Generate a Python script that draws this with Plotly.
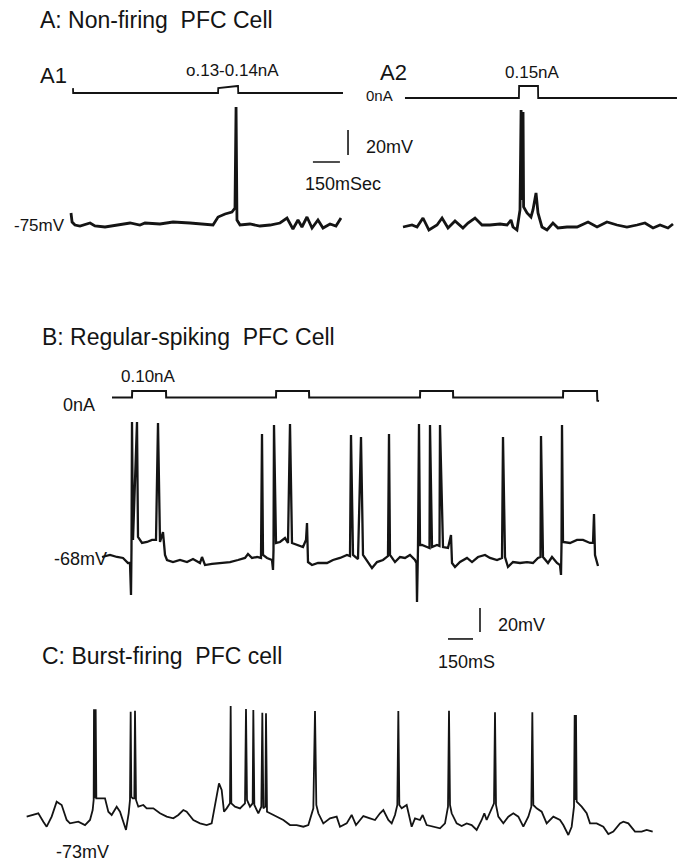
import plotly.graph_objects as go

W, H = 684, 861

# ---------------- DATA (time in ms, membrane potential in mV, current in nA) ----------------
# Panel A1: non-firing cell, 0.13-0.14 nA step
a1_time_ms = [0, 6, 22, 50, 106, 133, 189, 272, 328, 383, 411, 494, 567, 661, 744, 789, 817, 856, 894, 911,
              917, 922, 939, 994, 1050, 1106, 1161, 1200, 1233, 1261, 1283, 1311, 1339, 1372, 1400, 1439, 1472, 1500]
a1_mv = [-65.4, -72.6, -75, -75.8, -73.4, -75.8, -76.6, -75, -73.4, -75, -73.4, -74.2, -72.6, -73.4, -74.2, -75,
         -68.6, -66.2, -64.6, -61.4, 19.4, -71, -75, -74.2, -75.8, -75, -73.4, -69.4, -78.2, -71, -76.6, -68.6,
         -77.4, -71, -77.4, -74.2, -75.8, -69.4]
a1_cmd_time_ms = [11, 12, 817, 818, 925, 928, 929, 1511]
a1_cmd_na = [0.11, 0.0, 0.0, 0.113, 0.158, 0.158, 0.0, 0.0]

# Panel A2: non-firing cell, 0.15 nA step
a2_time_ms = [0, 50, 78, 111, 144, 189, 217, 250, 289, 333, 361, 400, 439, 483, 539, 578, 600, 611, 633, 650,
              656, 661, 667, 670, 689, 711, 722, 739, 750, 772, 800, 833, 861, 911, 967, 1028, 1078, 1133, 1189,
              1244, 1300, 1344, 1389, 1428, 1472, 1500]
a2_mv = [-75, -73.4, -75, -67.8, -77.4, -73.4, -67.8, -75.8, -70.2, -75.8, -71.8, -67.8, -73.4, -73.4, -72.6,
         -73.4, -69.4, -75, -77.4, -61.4, 18.6, -53.4, 17, -59, -63.8, -67, -61.4, -47.8, -63.8, -75, -77.4,
         -71.8, -75.8, -75, -75, -71, -75, -71, -73.4, -75, -73.4, -71.8, -75.8, -73.4, -75.8, -72.6]
a2_cmd_time_ms = [11, 644, 645, 750, 751, 1522]
a2_cmd_na = [0.0, 0.0, 0.15, 0.15, 0.0, 0.0]

# Panel B: regular-spiking cell, repeated 0.10 nA steps
b_time_ms = [0, 48, 90, 126, 156, 168, 174, 177, 180, 186, 210, 216, 240, 270, 300, 324, 336, 348, 366, 378,
             390, 426, 468, 510, 546, 588, 600, 618, 660, 708, 768, 816, 858, 876, 900, 930, 954, 960, 966, 990,
             1020, 1026, 1029, 1032, 1044, 1068, 1098, 1116, 1128, 1140, 1170, 1206, 1224, 1230, 1236, 1260,
             1296, 1350, 1386, 1428, 1470, 1488, 1494, 1506, 1536, 1554, 1566, 1596, 1620, 1650, 1686, 1716,
             1722, 1728, 1758, 1788, 1818, 1848, 1878, 1887, 1890, 1896, 1902, 1908, 1920, 1950, 1965, 1968,
             1980, 2010, 2025, 2028, 2046, 2076, 2094, 2100, 2118, 2148, 2190, 2220, 2256, 2298, 2328, 2370,
             2400, 2406, 2418, 2436, 2466, 2508, 2550, 2586, 2616, 2631, 2634, 2646, 2676, 2700, 2730, 2748,
             2754, 2757, 2760, 2766, 2808, 2850, 2886, 2928, 2946, 2952, 2958, 2976]
b_mv = [-65.5, -63.8, -65.5, -66.3, -70.5, -70.5, -97.2, -58, 47, -51.3, 47, -48.8, -53.8, -53, -51.3, -51.3,
        46.2, -53, -44.7, -63.8, -68, -69.7, -68, -69.7, -67.2, -70.5, -65.5, -72.2, -71.3, -70.5, -69.7, -68,
        -66.3, -63, -66.3, -65.5, -66.3, 37, -63.8, -66.3, -68, -76.3, -59.7, 44.5, -53.8, -53, -49.7, -53.8,
        45.3, -53.8, -55.5, -57.2, -51.3, -37.2, -69.7, -72.2, -70.5, -70.5, -68, -66.3, -63.8, -64.7, 36.2,
        -63.8, -67.2, 34.5, -63.8, -70.5, -74.7, -69.7, -68, -64.7, 37, -63.8, -69.7, -65.5, -66.3, -63.8,
        -68, -70.5, -103, -57.2, 45.3, -55.5, -55.5, -57.2, -58, 44.5, -57.2, -55.5, -56.3, 44.5, -57.2, -58,
        -47.2, -70.5, -73.8, -69.7, -66.3, -69.7, -65.5, -63.8, -66.3, -68, -66.3, 34.5, -65.5, -73.8, -69.7,
        -70.5, -69.7, -70.5, -66.3, -65.5, 35.3, -65.5, -70.5, -65.5, -70.5, -72.2, -80.5, -55.5, 44.5, -53,
        -53.8, -51.3, -51.3, -53.8, -53.8, -29.7, -63.8, -73]
b_cmd_time_ms = [60, 180, 181, 384, 385, 1044, 1045, 1242, 1243, 1908, 1909, 2106, 2107, 2766, 2767, 2970,
                 2972, 2982]
b_cmd_na = [0.0, 0.0, 0.1, 0.1, 0.0, 0.0, 0.1, 0.1, 0.0, 0.0, 0.1, 0.1, 0.0, 0.0, 0.1, 0.1, -0.05, -0.055]

# Panel C: burst-firing cell, spontaneous activity
c_time_ms = [0, 40, 70, 100, 120, 150, 180, 210, 240, 260, 310, 350, 380, 396, 402, 404, 408, 414, 418, 440,
             470, 490, 510, 540, 560, 596, 612, 620, 624, 628, 636, 646, 650, 656, 670, 700, 720, 760, 800, 840,
             880, 910, 940, 960, 1000, 1040, 1080, 1110, 1130, 1154, 1170, 1184, 1200, 1220, 1224, 1228, 1250,
             1280, 1310, 1316, 1322, 1340, 1356, 1360, 1366, 1390, 1408, 1414, 1420, 1432, 1436, 1442, 1460,
             1500, 1540, 1580, 1620, 1660, 1690, 1720, 1730, 1738, 1750, 1780, 1820, 1860, 1880, 1920, 1950,
             1976, 2020, 2060, 2090, 2120, 2140, 2170, 2190, 2210, 2224, 2230, 2236, 2250, 2280, 2310, 2330,
             2360, 2376, 2400, 2440, 2480, 2510, 2528, 2534, 2540, 2550, 2580, 2610, 2640, 2670, 2700, 2730,
             2746, 2760, 2796, 2804, 2810, 2816, 2830, 2860, 2890, 2920, 2950, 2980, 3010, 3028, 3034, 3040,
             3060, 3090, 3120, 3160, 3200, 3220, 3250, 3270, 3284, 3288, 3292, 3296, 3300, 3310, 3330, 3360,
             3380, 3420, 3460, 3490, 3520, 3560, 3580, 3610, 3650, 3690, 3720, 3756]
c_mv = [-67.7, -66.3, -64.9, -71.9, -76.1, -67.7, -55.2, -58.0, -70.5, -73.3, -71.9, -74.7, -70.5, -62.2,
        -53.8, 21.7, -52.4, 21.7, -52.4, -52.4, -52.4, -63.6, -66.3, -59.4, -63.6, -78.8, -64.9, -53.8, 19.8,
        -51.1, -52.4, -52.4, 20.6, -53.8, -59.4, -58.0, -60.8, -60.8, -64.9, -67.7, -69.1, -66.3, -62.2, -63.6,
        -70.5, -73.3, -74.7, -73.3, -59.4, -40.0, -45.5, -63.6, -60.8, -56.6, 24.5, -56.6, -59.4, -60.8, -56.6,
        22.0, -53.8, -59.4, -56.6, 21.2, -58.0, -64.9, -59.4, 18.9, -60.8, -59.4, 18.4, -63.6, -64.9, -67.7,
        -70.5, -74.7, -74.7, -76.1, -74.7, -60.8, 20.3, -58.0, -64.9, -73.3, -69.1, -67.7, -76.1, -73.3, -66.3,
        -74.7, -67.2, -69.1, -70.5, -64.9, -62.2, -70.5, -73.3, -66.3, -58.0, 20.3, -58.0, -60.8, -58.0, -76.1,
        -69.1, -70.5, -66.3, -74.7, -76.1, -77.4, -73.3, -59.4, 20.6, -58.0, -64.9, -73.3, -75.5, -73.3, -74.7,
        -78.8, -70.5, -64.9, -70.5, -58.0, -56.6, 19.2, -58.0, -67.7, -73.3, -67.7, -64.9, -67.7, -76.1, -67.7,
        -59.4, 19.2, -58.0, -60.8, -63.6, -73.3, -67.7, -70.5, -74.7, -83.0, -76.1, -59.4, 17.0, -53.8, 17.0,
        -55.2, -56.6, -59.4, -64.9, -73.3, -73.3, -76.1, -82.2, -80.2, -73.3, -71.9, -73.3, -80.2, -80.2, -78.8,
        -80.2]

# Scale bars
scale_ms = 150
scale_mv = 20

# ---------------- LAYOUT HELPERS (pixel placement of each panel) ----------------
def xax(px_lo, px_hi, px0, ms_per_px, anchor):
    return dict(domain=[px_lo / W, px_hi / W],
                range=[(px_lo - px0) * ms_per_px, (px_hi - px0) * ms_per_px],
                visible=False, fixedrange=True, anchor=anchor)

def yax(px_top, px_bot, py0, v0, per_px, anchor):
    return dict(domain=[1 - px_bot / H, 1 - px_top / H],
                range=[v0 - (px_bot - py0) * per_px, v0 + (py0 - px_top) * per_px],
                visible=False, fixedrange=True, anchor=anchor)

KA = 150 / 27
layout_axes = dict(
    xaxis=xax(55, 355, 71, KA, 'y'),
    yaxis=yax(100, 245, 225, -75, 0.8, 'x'),
    yaxis2=yax(78, 100, 93, 0.0, 0.135 / 6, 'x'),
    xaxis2=xax(395, 684, 403, KA, 'y3'),
    yaxis3=yax(100, 245, 227, -75, 0.8, 'x2'),
    yaxis4=yax(78, 103, 98, 0.0, 0.15 / 12, 'x2'),
    xaxis3=xax(95, 615, 102, 6, 'y5'),
    yaxis5=yax(410, 650, 560, -68, 20 / 24, 'x3'),
    yaxis6=yax(383, 408, 397.5, 0.0, 0.1 / 6.5, 'x3'),
    xaxis4=xax(20, 665, 26.667, 6, 'y7'),
    yaxis7=yax(695, 845, 823, -73, 20 / 24, 'x4'),
)

INK = '#141414'
fig = go.Figure()

def line(x, y, xa, ya, w):
    fig.add_trace(go.Scatter(x=x, y=y, xaxis=xa, yaxis=ya, mode='lines',
                             line=dict(color=INK, width=w), hoverinfo='skip', showlegend=False))

line(a1_time_ms, a1_mv, 'x', 'y', 2.8)
line(a1_cmd_time_ms, a1_cmd_na, 'x', 'y2', 1.8)
line(a2_time_ms, a2_mv, 'x2', 'y3', 2.8)
line(a2_cmd_time_ms, a2_cmd_na, 'x2', 'y4', 1.8)
line(b_time_ms, b_mv, 'x3', 'y5', 2.3)
line(b_cmd_time_ms, b_cmd_na, 'x3', 'y6', 2.0)
line(c_time_ms, c_mv, 'x4', 'y7', 1.8)

# scale bars (A panel in A1 axes, B panel in B axes)
bar_a_t, bar_a_v = 1344, -24.6
bar_a_vt, bar_a_vv = 1539, -19
bar_b_t, bar_b_v = 2076, -133.8
bar_b_vt, bar_b_vv = 2268, -128
shapes = [
    dict(type='line', xref='x', yref='y', x0=bar_a_t, x1=bar_a_t + scale_ms, y0=bar_a_v, y1=bar_a_v,
         line=dict(color=INK, width=1.5)),
    dict(type='line', xref='x', yref='y', x0=bar_a_vt, x1=bar_a_vt, y0=bar_a_vv, y1=bar_a_vv + scale_mv,
         line=dict(color=INK, width=1.6)),
    dict(type='line', xref='x3', yref='y5', x0=bar_b_t, x1=bar_b_t + scale_ms, y0=bar_b_v, y1=bar_b_v,
         line=dict(color=INK, width=1.6)),
    dict(type='line', xref='x3', yref='y5', x0=bar_b_vt, x1=bar_b_vt, y0=bar_b_vv, y1=bar_b_vv + scale_mv,
         line=dict(color=INK, width=1.6)),
]

FONT = 'Liberation Sans, Arial, sans-serif'
def ann(text, px, py, size, xanchor='center'):
    return dict(text=text, x=px / W, y=1 - py / H, xref='paper', yref='paper', showarrow=False,
                xanchor=xanchor, yanchor='middle', font=dict(family=FONT, size=size, color=INK))

NB = '\u00a0'
annotations = [
    ann('A: Non-firing' + NB + NB + 'PFC Cell', 38, 20, 23, 'left'),
    ann('A1', 38, 76, 22, 'left'),
    ann('o.13-0.14nA', 232, 71, 17),
    ann('-75mV', 67, 225, 17, 'right'),
    ann('20mV', 364, 147, 18, 'left'),
    ann('150mSec', 303, 184, 18, 'left'),
    ann('A2', 393, 73, 22),
    ann('0nA', 379, 96, 15),
    ann('0.15nA', 532, 73, 17),
    ann('B: Regular-spiking' + NB + NB + 'PFC Cell', 40, 337, 23, 'left'),
    ann('0.10nA', 148, 377, 17),
    ann('0nA', 79, 405, 18),
    ann('-68mV', 109, 559, 18, 'right'),
    ann(f'{scale_mv}mV', 496, 625, 18, 'left'),
    ann(f'{scale_ms}mS', 466, 662, 18),
    ann('C: Burst-firing' + NB + NB + 'PFC cell', 40, 656, 23, 'left'),
    ann('-73mV', 82, 852, 18),
]

fig.update_layout(width=W, height=H, autosize=False, margin=dict(l=0, r=0, t=0, b=0),
                  paper_bgcolor='white', plot_bgcolor='rgba(0,0,0,0)', showlegend=False,
                  shapes=shapes, annotations=annotations, **layout_axes)
fig.write_html("out.html", config={'displayModeBar': False, 'staticPlot': True},
               post_script="document.body.style.margin='0';document.body.style.overflow='hidden';")
